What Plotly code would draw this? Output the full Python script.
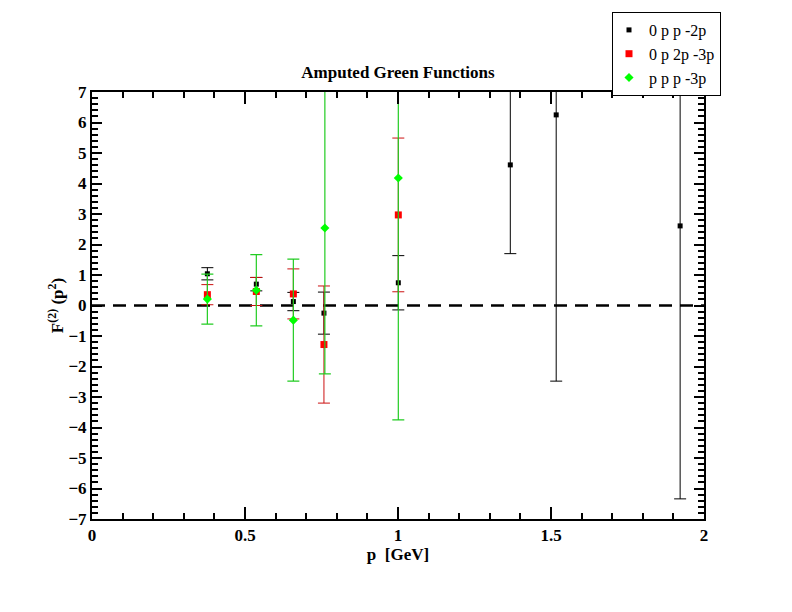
import plotly.graph_objects as go

# momentum values and F(2)(p^2) readings, one list per momentum configuration
p_a = [0.377, 0.537, 0.658, 0.758, 1.001, 1.367, 1.517, 1.922]
f_a = [1.04, 0.70, 0.13, -0.25, 0.745, 4.61, 6.25, 2.61]
err_a = [0.20, 0.22, 0.30, 0.69, 0.89, 2.91, 8.73, 8.95]

p_b = [0.377, 0.537, 0.658, 0.758, 1.001]
f_b = [0.355, 0.46, 0.38, -1.28, 2.97]
err_b = [0.33, 0.46, 0.82, 1.92, 2.52]

p_c = [0.377, 0.537, 0.658, 0.761, 1.001]
f_c = [0.21, 0.50, -0.48, 2.54, 4.18]
err_c = [0.82, 1.17, 2.00, 4.78, 7.93]

names = ["0 p p -2p", "0 p 2p -3p", "p p p -3p"]
x_ticks = [0, 0.5, 1, 1.5, 2]
x_labels = ["0", "0.5", "1", "1.5", "2"]
y_ticks = list(range(-7, 8))

serif = "Liberation Serif, Times New Roman, serif"

fig = go.Figure()

# zero reference line
fig.add_trace(go.Scatter(x=[0, 2], y=[0, 0], mode="lines", showlegend=False,
                         line=dict(color="black", width=2.5, dash="13px,8px"),
                         hoverinfo="skip"))

fig.add_trace(go.Scatter(
    x=p_a, y=f_a, mode="markers", name=names[0],
    marker=dict(symbol="square", size=5, color="black"),
    error_y=dict(type="data", array=err_a, color="black", thickness=1, width=6)))

fig.add_trace(go.Scatter(
    x=p_b, y=f_b, mode="markers", name=names[1],
    marker=dict(symbol="square", size=7, color="#ff0000"),
    error_y=dict(type="data", array=err_b, color="#cc1111", thickness=1, width=6)))

fig.add_trace(go.Scatter(
    x=p_c, y=f_c, mode="markers", name=names[2],
    marker=dict(symbol="diamond", size=7, color="#00ff00"),
    error_y=dict(type="data", array=err_c, color="#22cc22", thickness=1.2, width=6)))

axis_common = dict(
    showline=True, linecolor="black", linewidth=2, mirror="ticks",
    ticks="inside", tickcolor="black", tickwidth=2,
    showgrid=False, zeroline=False,
    tickfont=dict(family=serif, size=17, color="black", weight="bold"),
)

fig.update_xaxes(range=[0, 2], tickvals=x_ticks, ticktext=x_labels, ticklen=12,
                 minor=dict(dtick=0.1, ticks="inside", ticklen=6, tickwidth=2,
                            tickcolor="black", showgrid=False),
                 title=dict(text="p  [GeV]", standoff=2,
                            font=dict(family=serif, size=17, color="black", weight="bold")),
                 **axis_common)

fig.update_yaxes(range=[-7, 7], tickvals=y_ticks, ticklen=10,
                 minor=dict(dtick=0.2, ticks="inside", ticklen=6, tickwidth=2,
                            tickcolor="black", showgrid=False),
                 title=dict(text="F<sup>(2)</sup> (p<sup>2</sup>)", standoff=0,
                            font=dict(family=serif, size=17, color="black", weight="bold")),
                 **axis_common)

# page body adds an 8px offset, so margins are shifted to land the frame where the reference has it
fig.update_layout(
    width=792, height=612,
    margin=dict(l=84, r=96, t=84, b=101, autoexpand=False),
    plot_bgcolor="white", paper_bgcolor="white",
    title=dict(text="<b>Amputed Green Functions</b>", x=0.5, xanchor="center",
               xref="paper", y=1 - 64 / 612, yanchor="middle",
               font=dict(family=serif, size=17, color="black")),
    legend=dict(xref="container", yref="container", x=604 / 792, y=1 - 4 / 612,
                xanchor="left", yanchor="top",
                bordercolor="black", borderwidth=1, bgcolor="white",
                font=dict(family=serif, size=16, color="black"),
                tracegroupgap=0, itemwidth=30, indentation=-4),
    font=dict(family=serif, color="black"),
)

fig.write_html("out.html")
